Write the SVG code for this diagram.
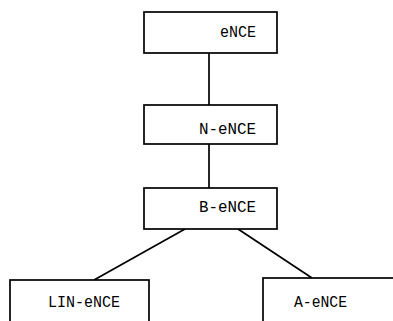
<svg xmlns="http://www.w3.org/2000/svg" width="393" height="321" viewBox="0 0 393 321">
  <style>
    .box { fill: #fff; stroke: #000; stroke-width: 1.7; }
    .lbl { font-family: "Liberation Mono", "DejaVu Sans Mono", monospace; font-size: 16.5px; fill: #000; }
    .edge { stroke: #000; stroke-width: 1.7; fill: none; }
  </style>
  <rect width="393" height="321" fill="#fff"/>
  <g id="connectors">
    <line class="edge" x1="209" y1="53" x2="209" y2="105"/>
    <line class="edge" x1="209" y1="144" x2="209" y2="188"/>
    <line class="edge" x1="185" y1="229" x2="94" y2="280"/>
    <line class="edge" x1="238" y1="229" x2="312" y2="278"/>
  </g>
  <g id="eNCE">
    <rect class="box" x="144" y="12" width="133" height="41"/>
    <text class="lbl" x="220" y="37" textLength="36" lengthAdjust="spacingAndGlyphs">eNCE</text>
  </g>
  <g id="N-eNCE">
    <rect class="box" x="144" y="105" width="133" height="39"/>
    <text class="lbl" x="199" y="134" textLength="57" lengthAdjust="spacingAndGlyphs">N-eNCE</text>
  </g>
  <g id="B-eNCE">
    <rect class="box" x="144" y="188" width="133" height="41"/>
    <text class="lbl" x="199" y="212" textLength="57" lengthAdjust="spacingAndGlyphs">B-eNCE</text>
  </g>
  <g id="LIN-eNCE">
    <rect class="box" x="10" y="280" width="139" height="60"/>
    <text class="lbl" x="48" y="307" textLength="72" lengthAdjust="spacingAndGlyphs">LIN-eNCE</text>
  </g>
  <g id="A-eNCE">
    <rect class="box" x="263" y="278" width="150" height="60"/>
    <text class="lbl" x="294" y="307" textLength="53" lengthAdjust="spacingAndGlyphs">A-eNCE</text>
  </g>
</svg>
